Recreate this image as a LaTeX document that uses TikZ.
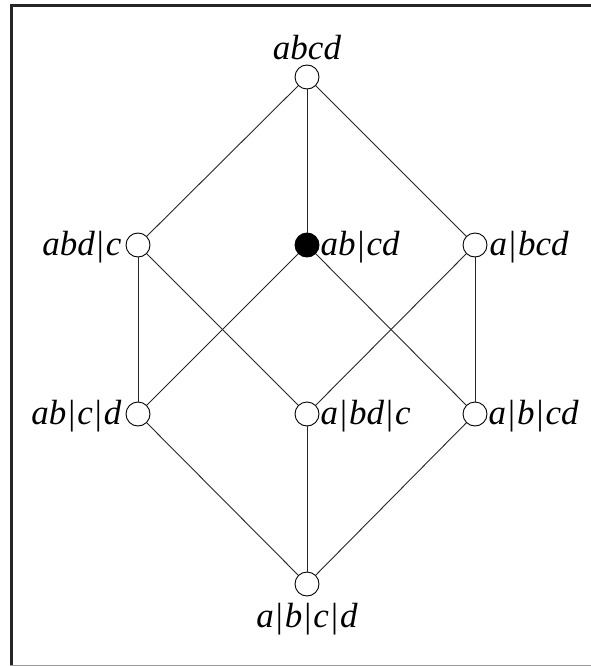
\documentclass[tikz,border=0pt]{standalone}
\usepackage{fontspec}
\setmainfont{Liberation Serif}
\newcommand{\sepbar}{\kern2pt{\upshape|}\kern2pt}
\begin{document}
\begin{tikzpicture}[x=1pt,y=-1pt,
  vtx/.style={circle,draw,line width=0.9pt,minimum size=24pt,inner sep=0pt,fill=white},
  fvtx/.style={vtx,fill=black},
  lbl/.style={inner sep=0pt,font=\fontsize{35}{38}\selectfont\itshape},
  edge/.style={line width=0.9pt,draw=black!85}]
\useasboundingbox (0,0) rectangle (591,666);
% frame (cropped)
\draw[line width=3pt,draw=black!85] (11.5,666) -- (11.5,5.5) -- (591,5.5);
\draw[line width=1pt,draw=black!40] (10,665.5) -- (591,665.5);
% vertices
\node[vtx] (t) at (307,77) {};
\node[vtx] (l1) at (138,245) {};
\node[fvtx] (m1) at (307,245) {};
\node[vtx] (r1) at (475,245) {};
\node[vtx] (l2) at (138,414) {};
\node[vtx] (m2) at (307,414) {};
\node[vtx] (r2) at (475,414) {};
\node[vtx] (b) at (307,584) {};
% edges
\draw[edge] (t) -- (l1);
\draw[edge] (t) -- (m1);
\draw[edge] (t) -- (r1);
\draw[edge] (l1) -- (l2);
\draw[edge] (l1) -- (m2);
\draw[edge] (m1) -- (l2);
\draw[edge] (m1) -- (r2);
\draw[edge] (r1) -- (m2);
\draw[edge] (r1) -- (r2);
\draw[edge] (l2) -- (b);
\draw[edge] (m2) -- (b);
\draw[edge] (r2) -- (b);
% labels
\node[lbl,anchor=base] (lt) at (307,60) {abcd};
\node[lbl,anchor=base east] (ll1) at ([xshift=-4pt,yshift=-10pt]l1.west) {abd\sepbar c};
\node[lbl,anchor=base west] (lm1) at ([xshift=1pt,yshift=-10pt]m1.east) {ab\sepbar cd};
\node[lbl,anchor=base west] (lr1) at ([xshift=2pt,yshift=-10pt]r1.east) {a\sepbar bcd};
\node[lbl,anchor=base east] (ll2) at ([xshift=-4pt,yshift=-10pt]l2.west) {ab\sepbar c\sepbar d};
\node[lbl,anchor=base west] (lm2) at ([xshift=1pt,yshift=-10pt]m2.east) {a\sepbar bd\sepbar c};
\node[lbl,anchor=base west] (lr2) at ([xshift=1pt,yshift=-10pt]r2.east) {a\sepbar b\sepbar cd};
\node[lbl,anchor=base] (lb) at (307,627) {a\sepbar b\sepbar c\sepbar d};
\end{tikzpicture}
\end{document}
